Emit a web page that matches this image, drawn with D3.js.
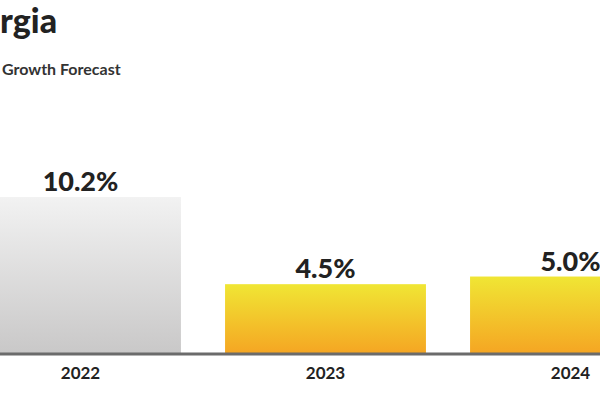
<!DOCTYPE html>
<html><head><meta charset="utf-8">
<script src="https://cdn.jsdelivr.net/npm/d3@7"></script>
<style>body{margin:0;background:#fff}svg{display:block}</style>
</head><body>
<div id="chart"></div>
<script>
const years = ["2022", "2023", "2024"];
const growth = [10.2, 4.5, 5.0];
const labels = ["10.2%", "4.5%", "5.0%"];

const svg = d3.select("#chart").append("svg")
  .attr("width", 600).attr("height", 400)
  .style("font-family", "Lato, 'Open Sans', sans-serif");

const defs = svg.append("defs");
const g1 = defs.append("linearGradient").attr("id", "grey").attr("x1", 0).attr("y1", 0).attr("x2", 0).attr("y2", 1);
g1.append("stop").attr("offset", "0%").attr("stop-color", "#f2f2f2");
g1.append("stop").attr("offset", "100%").attr("stop-color", "#c9c8c8");
const g2 = defs.append("linearGradient").attr("id", "gold").attr("x1", 0).attr("y1", 0).attr("x2", 0).attr("y2", 1);
g2.append("stop").attr("offset", "0%").attr("stop-color", "#f0e634");
g2.append("stop").attr("offset", "100%").attr("stop-color", "#f5a623");

const x = d3.scaleBand().domain(years).range([-42, 693]).paddingInner(0.18).paddingOuter(0.09);
const y = d3.scaleLinear().domain([0, 10.2]).range([353, 197]);

svg.selectAll(".bar").data(years).join("rect")
  .attr("x", d => x(d)).attr("width", x.bandwidth())
  .attr("y", (d, i) => y(growth[i])).attr("height", (d, i) => y(0) - y(growth[i]))
  .attr("fill", (d, i) => i === 0 ? "url(#grey)" : "url(#gold)");

svg.append("line").attr("x1", 0).attr("x2", 600).attr("y1", y(0) + 1).attr("y2", y(0) + 1)
  .attr("stroke", "#6b6b6b").attr("stroke-width", 3);

svg.selectAll(".val").data(years).join("text")
  .attr("x", d => x(d) + x.bandwidth() / 2)
  .attr("y", (d, i) => y(growth[i]) - 6)
  .attr("text-anchor", "middle").attr("font-size", 27).attr("font-weight", 900)
  .attr("fill", "#222").text((d, i) => labels[i]);

const xAxis = svg.append("g").attr("transform", `translate(0,${y(0)})`)
  .call(d3.axisBottom(x).tickSize(0).tickPadding(14));
xAxis.select(".domain").remove();
xAxis.selectAll("text").attr("font-size", 17).attr("font-weight", 700)
  .attr("fill", "#222").style("font-family", "Lato, sans-serif");

svg.append("text").attr("x", 0).attr("y", 33)
  .attr("font-size", 34).attr("font-weight", 900).attr("fill", "#222").text("rgia");
svg.append("text").attr("x", 2).attr("y", 75)
  .attr("font-size", 16).attr("font-weight", 700).attr("fill", "#333").text("Growth Forecast");
</script>
</body></html>
